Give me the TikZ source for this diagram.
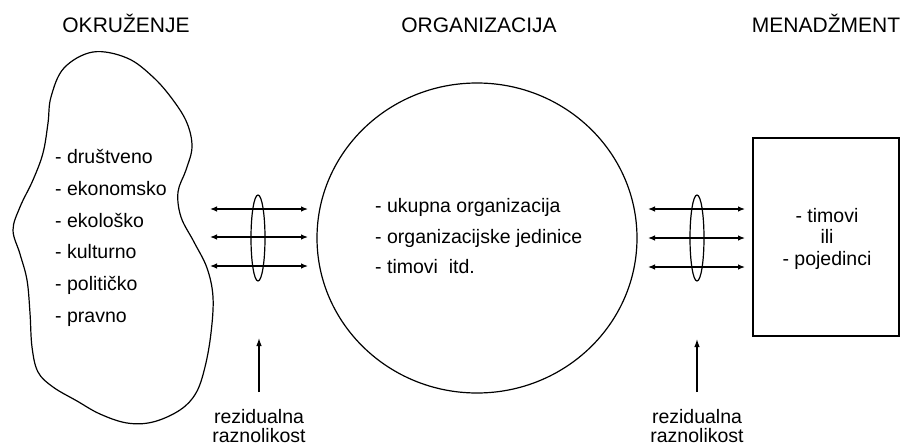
\documentclass[tikz,border=0pt]{standalone}
\usepackage{fontspec}
\setmainfont{Liberation Sans}
\usetikzlibrary{arrows.meta,shapes.geometric}
\tikzset{
  line/.style={line width=1.2pt},
  dbl/.style={line width=1.2pt,{Latex[length=7pt,width=5.5pt]}-{Latex[length=7pt,width=5.5pt]}},
  uparrow/.style={line width=1.2pt,-{Latex[length=8pt,width=5.5pt]}},
  title/.style={font=\fontsize{21}{24}\selectfont, anchor=base, inner sep=0pt},
  body/.style={font=\fontsize{19.5}{22}\selectfont, inner sep=0pt},
  lens/.style={line width=1.2pt, draw, ellipse, minimum width=14pt, minimum height=86pt, inner sep=0pt}
}
\begin{document}
\begin{tikzpicture}[x=1pt,y=-1pt]
\useasboundingbox (0,0) rectangle (903,447);
% titles
\node[title] (t1) at (126,32) {OKRUŽENJE};
\node[title] (t2) at (479,32) {ORGANIZACIJA};
\node[title] (t3) at (826,32) {MENADŽMENT};
% environment blob
\draw[line] plot[smooth cycle, tension=0.6] coordinates {
 (93,52) (127,58) (153,77) (173,100) (187,123) (192,147) (186,170) (178,192)
 (181,217) (194,242) (207,268) (213,297) (211,333) (205,367) (196,393)
 (180,410) (153,422) (127,423) (100,414) (77,401) (53,387) (38,372)
 (32,347) (30,313) (27,280) (20,254) (13,230) (20,207) (33,180) (43,153)
 (48,123) (51,97) (64,68)};
\node[body, anchor=base west] (e1) at (55,163) {- društveno};
\node[body, anchor=base west] (e2) at (55,195) {- ekonomsko};
\node[body, anchor=base west] (e3) at (55,227) {- ekološko};
\node[body, anchor=base west] (e4) at (55,258) {- kulturno};
\node[body, anchor=base west] (e5) at (55,290) {- političko};
\node[body, anchor=base west] (e6) at (55,322) {- pravno};
% organization circle
\node[line, draw, ellipse, minimum width=320pt, minimum height=310pt, inner sep=0pt] (org) at (477,238) {};
\node[body, anchor=base west] (o1) at (375,212) {- ukupna organizacija};
\node[body, anchor=base west] (o2) at (375,243) {- organizacijske jedinice};
\node[body, anchor=base west] (o3) at (375,273) {- timovi\ \ itd.};
% management box
\node[line, draw, minimum width=146pt, minimum height=198pt, inner sep=0pt] (mg) at (826,237) {};
\node[body, anchor=base] (m1) at (827,222) {- timovi};
\node[body, anchor=base] (m2) at (827,243) {ili};
\node[body, anchor=base] (m3) at (827,265) {- pojedinci};
% left arrows
\coordinate (la1) at (210,209); \coordinate (lb1) at (308,209);
\coordinate (la2) at (210,237); \coordinate (lb2) at (308,237);
\coordinate (la3) at (210,266); \coordinate (lb3) at (308,266);
\draw[dbl] (la1) -- (lb1);
\draw[dbl] (la2) -- (lb2);
\draw[dbl] (la3) -- (lb3);
\node[lens] (lensL) at (258,238) {};
% right arrows
\coordinate (ra1) at (648,209); \coordinate (rb1) at (745,209);
\coordinate (ra2) at (648,238); \coordinate (rb2) at (745,238);
\coordinate (ra3) at (648,267); \coordinate (rb3) at (745,267);
\draw[dbl] (ra1) -- (rb1);
\draw[dbl] (ra2) -- (rb2);
\draw[dbl] (ra3) -- (rb3);
\node[lens] (lensR) at (697,238) {};
% residual variety
\node[body, anchor=base] (rl1) at (259,423) {rezidualna};
\node[body, anchor=base] (rl2) at (259,442) {raznolikost};
\coordinate (ul0) at (259,392); \coordinate (ul1) at (259,338);
\draw[uparrow] (ul0) -- (ul1);
\node[body, anchor=base] (rr1) at (697,423) {rezidualna};
\node[body, anchor=base] (rr2) at (697,442) {raznolikost};
\coordinate (ur0) at (697,392); \coordinate (ur1) at (697,339);
\draw[uparrow] (ur0) -- (ur1);
\end{tikzpicture}
\end{document}
